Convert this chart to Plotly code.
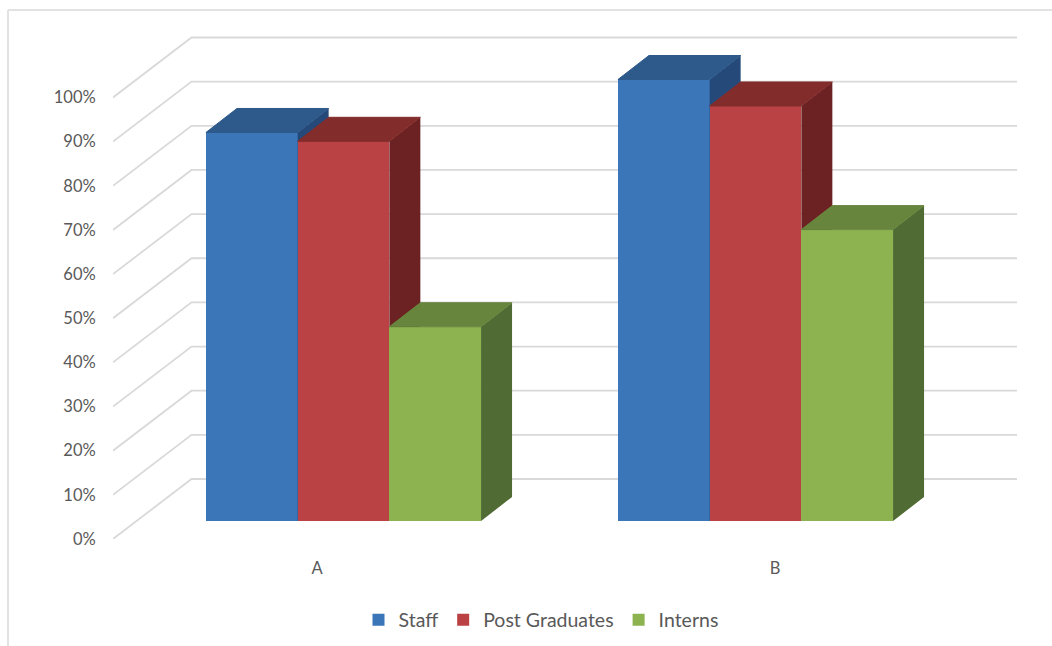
import plotly.graph_objects as go

categories = ["A", "B"]
series_names = ["Staff", "Post Graduates", "Interns"]
staff = [88, 100]
post_graduates = [86, 94]
interns = [44, 66]
y_ticks = [0, 10, 20, 30, 40, 50, 60, 70, 80, 90, 100]

FRONT = ["#3A76B8", "#BA4244", "#8DB351"]
TOP = ["#2D5A8B", "#832C2C", "#67853D"]
SIDE = ["#254A7A", "#6C2223", "#506B33"]

# page geometry (pixels)
W, H = 1052, 646
L, R, T, B = 113, 1020, 30, 539
PX_X = 412.0        # pixels per group
PX_Y = 4.415        # pixels per percent
X0 = 320.0          # pixel of group 0 on the floor's front edge

def ux(px):
    return px / PX_X

def uy(px):
    return px / PX_Y

x_range = [ux(L - X0), ux(R - X0)]
y_range = [0, uy(B - T)]

wall_dx, wall_dy = ux(78.5), uy(60)
lift_dx, lift_dy = ux(23.5), uy(18)
side_dx, side_dy = ux(31), uy(24)
bar_w = ux(91.7)
group_pos = [0, 1]
tick_pos = [ux(317 - X0), ux(775 - X0)]

fig = go.Figure()

# gridlines: floor-side slant + back wall
gx, gy = [], []
for t in y_ticks:
    gx += [x_range[0], x_range[0] + wall_dx, ux(1017 - X0), None]
    gy += [t, t + wall_dy, t + wall_dy, None]
fig.add_trace(go.Scatter(x=gx, y=gy, mode="lines", showlegend=False, hoverinfo="skip",
                         line=dict(color="#D9D9D9", width=1.8), zorder=0))

for s, (name, vals) in enumerate(zip(series_names, [staff, post_graduates, interns])):
    lefts = [g + lift_dx + (s - 1.5) * bar_w for g in group_pos]
    fig.add_trace(go.Bar(
        x=[l + bar_w / 2 for l in lefts], y=vals, base=[lift_dy] * len(vals), width=bar_w,
        name=name, marker=dict(color=FRONT[s], line=dict(width=0)), zorder=s + 1,
    ))
    tx, ty, sx, sy = [], [], [], []
    for l, v in zip(lefts, vals):
        top = lift_dy + v
        r = l + bar_w
        tx += [l, l + side_dx, r + side_dx, r, l, None]
        ty += [top, top + side_dy, top + side_dy, top, top, None]
        sx += [r, r + side_dx, r + side_dx, r, r, None]
        sy += [lift_dy, lift_dy + side_dy, top + side_dy, top, lift_dy, None]
    for px_, py_, col, lw in ((sx, sy, SIDE[s], 0), (tx, ty, TOP[s], 1)):
        fig.add_trace(go.Scatter(x=px_, y=py_, mode="lines", fill="toself", fillcolor=col,
                                 line=dict(width=lw, color=col), showlegend=False,
                                 hoverinfo="skip", zorder=s + 1))

def paper_x(px):
    return (px - L) / (R - L)

def paper_y(px):
    return (B - px) / (B - T)

frame = "#E2E2E2"
fig.add_shape(type="line", xref="paper", yref="paper", x0=paper_x(8), x1=paper_x(8),
              y0=paper_y(10), y1=paper_y(646), line=dict(color=frame, width=2))
fig.add_shape(type="line", xref="paper", yref="paper", x0=paper_x(8), x1=paper_x(1052),
              y0=paper_y(10), y1=paper_y(10), line=dict(color=frame, width=2))

font = dict(family="Lato, Carlito, sans-serif", color="#595959")
fig.update_layout(
    width=W, height=H, margin=dict(l=L, r=W - R, t=T, b=H - B, pad=0, autoexpand=False),
    paper_bgcolor="white", plot_bgcolor="white", barmode="overlay", bargap=0,
    font=dict(size=16.5, **font),
    xaxis=dict(range=x_range, tickvals=tick_pos, ticktext=categories, showgrid=False,
               zeroline=False, showline=False, ticks="outside", ticklen=14,
               tickcolor="rgba(0,0,0,0)", tickfont=dict(size=16.5, **font)),
    yaxis=dict(range=y_range, tickvals=y_ticks, ticktext=[f"{t}%" for t in y_ticks],
               showgrid=False, zeroline=False, showline=False, ticks="outside", ticklen=13,
               tickcolor="rgba(0,0,0,0)", tickfont=dict(size=16.5, **font)),
    legend=dict(orientation="h", xanchor="center", yanchor="middle", x=paper_x(541),
                y=paper_y(620), font=dict(size=19.5, **font), bgcolor="rgba(0,0,0,0)",
                itemwidth=30),
)

fig.write_html("out.html", config={"displayModeBar": False},
               post_script="document.body.style.margin='0';")
